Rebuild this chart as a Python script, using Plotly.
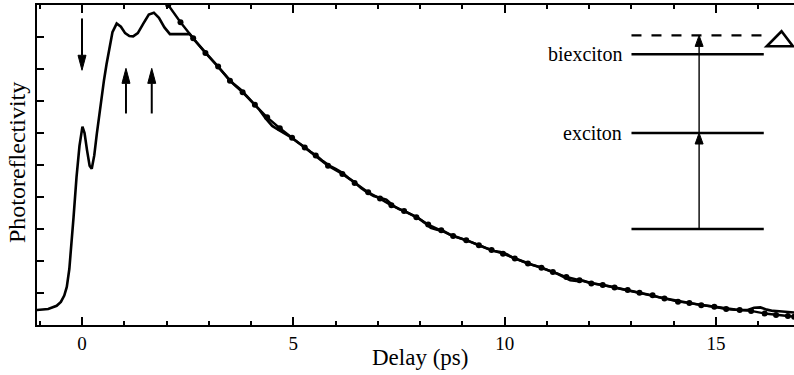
import plotly.graph_objects as go

# ---------------- data ----------------
exp_x = [-1.07, -0.8, -0.6, -0.5, -0.42, -0.36, -0.3, -0.25, -0.2, -0.13, -0.06, 0.01, 0.06,
         0.12, 0.18, 0.23, 0.29, 0.35, 0.45, 0.52, 0.58, 0.65, 0.72, 0.82, 0.92, 1.02, 1.12,
         1.21, 1.32, 1.45, 1.58, 1.70, 1.82, 1.95, 2.08, 2.30, 2.55,
         2.70, 2.85, 3.00, 3.15, 3.30, 3.45, 3.60, 3.75, 3.90, 4.05, 4.20, 4.35, 4.50, 4.65,
         4.80, 4.95, 5.10, 5.25, 5.40, 5.55, 5.70, 5.85, 6.00, 6.15, 6.30, 6.45, 6.60, 6.75,
         6.90, 7.05, 7.20, 7.35, 7.50, 7.65, 7.80, 7.95, 8.10, 8.25, 8.40, 8.55, 8.70, 8.85,
         9.00, 9.15, 9.30, 9.45, 9.60, 9.75, 9.90, 10.05, 10.20, 10.35, 10.50, 10.65, 10.80,
         10.95, 11.10, 11.25, 11.40, 11.55, 11.70, 11.85, 12.00, 12.15, 12.30, 12.45, 12.60,
         12.75, 12.90, 13.05, 13.20, 13.35, 13.50, 13.65, 13.80, 13.95, 14.10, 14.25, 14.40,
         14.55, 14.70, 14.85, 15.00, 15.15, 15.30, 15.45, 15.60, 15.75, 15.90, 16.05, 16.20,
         16.35, 16.50, 16.65, 16.85]
exp_y = [0.47, 0.50, 0.60, 0.72, 0.92, 1.19, 1.75, 2.50, 3.37, 4.62, 5.60, 6.20, 6.00,
         5.45, 4.98, 4.88, 5.30, 5.97, 7.00, 7.65, 8.15, 8.70, 9.15, 9.42, 9.32, 9.12, 9.03,
         9.02, 9.12, 9.42, 9.70, 9.76, 9.60, 9.30, 9.09, 9.09, 9.09,
         8.85, 8.62, 8.38, 8.17, 7.95, 7.72, 7.52, 7.36, 7.15, 6.95, 6.72, 6.45, 6.22, 6.10,
         5.98, 5.86, 5.71, 5.58, 5.42, 5.29, 5.12, 4.98, 4.88, 4.76, 4.60, 4.46, 4.28, 4.14,
         4.03, 3.97, 3.92, 3.74, 3.62, 3.55, 3.46, 3.35, 3.20, 3.04, 2.98, 2.94, 2.83, 2.75,
         2.69, 2.62, 2.53, 2.46, 2.38, 2.31, 2.28, 2.21, 2.10, 2.02, 1.94, 1.88, 1.82,
         1.75, 1.66, 1.60, 1.50, 1.40, 1.38, 1.39, 1.33, 1.28, 1.25, 1.22, 1.18,
         1.13, 1.10, 1.05, 1.01, 0.97, 0.92, 0.87, 0.83, 0.78, 0.74, 0.71, 0.68,
         0.65, 0.62, 0.59, 0.56, 0.53, 0.50, 0.48, 0.47, 0.47, 0.54, 0.55, 0.48,
         0.44, 0.43, 0.42, 0.39]

fit_x = [2.04, 2.33, 2.63, 2.92, 3.22, 3.50, 3.80, 4.09, 4.38, 4.68, 4.97, 5.27, 5.53, 5.82,
         6.16, 6.45, 6.77, 7.05, 7.32, 7.62, 7.91, 8.19, 8.50, 8.78, 9.09, 9.39, 9.69, 9.96,
         10.24, 10.55, 10.87, 11.14, 11.46, 11.77, 12.05, 12.32, 12.60, 12.91, 13.19, 13.50,
         13.78, 14.10, 14.37, 14.65, 14.96, 15.24, 15.56, 15.83, 16.15, 16.42, 16.70, 16.85]
fit_y = [10.0, 9.46, 8.96, 8.50, 8.08, 7.63, 7.27, 6.88, 6.49, 6.15, 5.85, 5.55, 5.30, 4.98,
         4.72, 4.44, 4.15, 3.95, 3.74, 3.56, 3.37, 3.14, 2.96, 2.78, 2.65, 2.49, 2.34, 2.23,
         2.08, 1.92, 1.79, 1.66, 1.50, 1.40, 1.30, 1.25, 1.17, 1.09, 1.01, 0.93,
         0.83, 0.73, 0.69, 0.62, 0.57, 0.50, 0.47, 0.44, 0.36, 0.31, 0.28, 0.26]

x_tick_vals = [0, 5, 10, 15]
x_tick_text = ["0", "5", "10", "15"]

# arrows marking features on the trace
probe_arrow_x = [0.0]           # downward arrow
probe_arrow_y = [9.58, 7.96]    # tail, tip
pump_arrow_x = [1.04, 1.65]     # upward arrows
pump_arrow_y = [6.61, 8.02]     # tail, tip

# energy-level inset
level_names = ["", "exciton", "biexciton"]
level_y = [3.0, 6.0, 8.46]
virtual_level_y = 9.05
level_x = [13.0, 16.13]
transition_x = 14.6
delta_x = [16.2, 16.55, 16.82]
delta_y = [8.71, 9.18]

FONT = "Liberation Serif, Times New Roman, serif"
PX_PER_X = 42.27
PX_PER_Y = 32.0

fig = go.Figure()
fig.add_trace(go.Scatter(x=exp_x, y=exp_y, mode="lines",
                         line=dict(color="black", width=2.6), showlegend=False))
fig.add_trace(go.Scatter(x=fit_x, y=fit_y, mode="lines+markers",
                         line=dict(color="black", width=2.4),
                         marker=dict(color="black", size=6), showlegend=False))

shapes = []


def arrow(x, y0, y1, width, head_len_px, head_w_px):
    """vertical arrow from y0 (tail) to y1 (tip)."""
    sgn = 1 if y1 > y0 else -1
    hl = head_len_px / PX_PER_Y
    hw = head_w_px / 2 / PX_PER_X
    base = y1 - sgn * hl
    shapes.append(dict(type="line", xref="x", yref="y", x0=x, x1=x, y0=y0, y1=base,
                       line=dict(color="black", width=width)))
    shapes.append(dict(type="path", xref="x", yref="y",
                       path=f"M{x - hw},{base} L{x + hw},{base} L{x},{y1} Z",
                       fillcolor="black", line=dict(color="black", width=1)))


for xa in probe_arrow_x:
    arrow(xa, probe_arrow_y[0], probe_arrow_y[1], 2, 15, 8)
for xa in pump_arrow_x:
    arrow(xa, pump_arrow_y[0], pump_arrow_y[1], 2, 15, 8)

# energy levels
for ly in level_y:
    shapes.append(dict(type="line", xref="x", yref="y", x0=level_x[0], x1=level_x[1],
                       y0=ly, y1=ly, line=dict(color="black", width=2.4)))
shapes.append(dict(type="line", xref="x", yref="y", x0=level_x[0], x1=level_x[1],
                   y0=virtual_level_y, y1=virtual_level_y,
                   line=dict(color="black", width=2.4, dash="10px,10px")))
arrow(transition_x, level_y[0], level_y[1], 1.4, 11, 8)
arrow(transition_x, level_y[1], virtual_level_y, 1.4, 11, 8)
shapes.append(dict(type="path", xref="x", yref="y",
                   path=f"M{delta_x[0]},{delta_y[0]} L{delta_x[2]},{delta_y[0]} "
                        f"L{delta_x[1]},{delta_y[1]} Z",
                   line=dict(color="black", width=2.6), fillcolor="rgba(0,0,0,0)"))

annotations = []
for name, ly in zip(level_names, level_y):
    if name:
        annotations.append(dict(x=level_x[0] - 0.18, y=ly, xref="x", yref="y", text=name,
                                showarrow=False, xanchor="right", yanchor="middle",
                                font=dict(family=FONT, size=20, color="black")))
annotations.append(dict(x=0.506, y=0, xref="paper", yref="paper", text="Delay (ps)",
                        showarrow=False, xanchor="center", yanchor="middle", yshift=-32,
                        font=dict(family=FONT, size=23, color="black")))
annotations.append(dict(x=0, y=0.506, xref="paper", yref="paper", text="Photoreflectivity",
                        showarrow=False, xanchor="center", yanchor="middle", xshift=-20,
                        textangle=-90, font=dict(family=FONT, size=24, color="black")))

fig.update_layout(
    width=794, height=375,
    margin=dict(l=37, r=0, t=5, b=50),
    paper_bgcolor="white", plot_bgcolor="white",
    shapes=shapes, annotations=annotations,
    xaxis=dict(range=[-1.065, 16.845], showgrid=False, zeroline=False,
               showline=True, linecolor="black", linewidth=2, mirror="ticks",
               ticks="inside", ticklen=8, tickwidth=1.5, tickcolor="black",
               tickvals=x_tick_vals, ticktext=x_tick_text,
               tickfont=dict(family=FONT, size=19, color="black"),
               minor=dict(dtick=1, tick0=0, ticks="inside", ticklen=4, tickwidth=1.5,
                          tickcolor="black", showgrid=False)),
    yaxis=dict(range=[0, 10], showgrid=False, zeroline=False,
               showline=True, linecolor="black", linewidth=2,
               ticks="inside", ticklen=7, tickwidth=1.5, tickcolor="black",
               dtick=1, tick0=0, showticklabels=False),
)

fig.write_html("out.html",
               config={"displayModeBar": False},
               post_script="document.body.style.margin='0px';"
                           "document.body.style.overflow='hidden';")
